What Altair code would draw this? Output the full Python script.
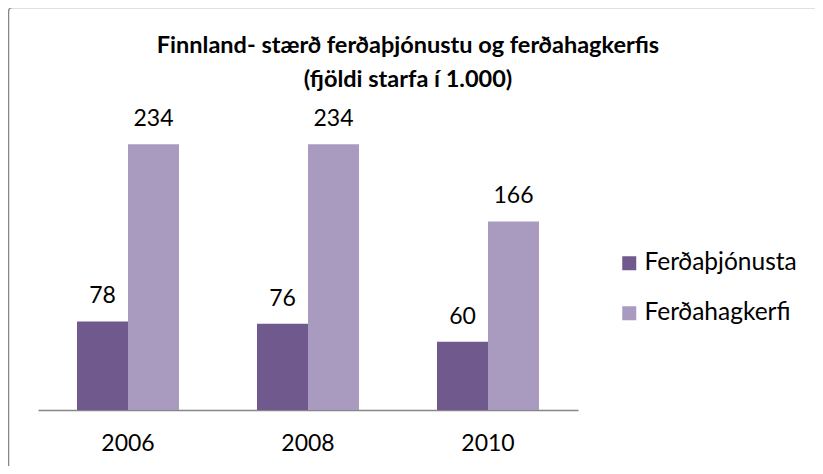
import altair as alt
import pandas as pd

years = ["2006", "2008", "2010"]
series = ["Ferðaþjónusta", "Ferðahagkerfi"]
ferdathjonusta = [78, 76, 60]
ferdahagkerfi = [234, 234, 166]
colors = ["#705A8D", "#A89BBF"]
title_lines = ["Finnland- stærð ferðaþjónustu og ferðahagkerfis", "(fjöldi starfa í 1.000)"]

rows = []
for i, y in enumerate(years):
    rows.append({"year": y, "series": series[0], "value": ferdathjonusta[i]})
    rows.append({"year": y, "series": series[1], "value": ferdahagkerfi[i]})
df = pd.DataFrame(rows)

FONT = "Lato, sans-serif"

x = alt.X("year:N", sort=years,
          scale=alt.Scale(paddingInner=0.4333, paddingOuter=0.2167),
          axis=alt.Axis(title=None, labelAngle=0, ticks=False, domainColor="#868686",
                        domainWidth=1.5, labelFont=FONT, labelFontSize=23,
                        labelColor="black", labelPadding=22))
y = alt.Y("value:Q", scale=alt.Scale(domain=[0, 250]), axis=None)
xo = alt.XOffset("series:N", sort=series, scale=alt.Scale(paddingInner=0, paddingOuter=0))

bars = alt.Chart(df).mark_bar().encode(
    x=x, y=y, xOffset=xo,
    color=alt.Color("series:N", sort=series,
                    scale=alt.Scale(domain=series, range=colors),
                    legend=alt.Legend(orient="none", legendX=579, legendY=125, title=None,
                                      symbolType="square", symbolSize=196, symbolStrokeWidth=0,
                                      labelFont=FONT, labelFontSize=24.5, labelColor="black",
                                      labelOffset=3, rowPadding=25, padding=0)),
)

labels = alt.Chart(df).mark_text(font=FONT, fontSize=23, baseline="alphabetic", dy=-18,
                                 color="black").encode(
    x=x, y=y, xOffset=xo, text=alt.Text("value:Q"))

single = pd.DataFrame({"a": [0]})

border = alt.Chart(single).mark_rect(
    fill=None, stroke="#868686", strokeWidth=1.5, cornerRadius=4).encode(
    x=alt.value(-29.5), y=alt.value(-118.5), x2=alt.value(2000), y2=alt.value(2000))

title = alt.Chart(single).mark_text(
    text=title_lines, font=FONT, fontSize=23.5, fontWeight="bold", color="black",
    align="center", baseline="alphabetic", lineHeight=34).encode(
    x=alt.value(370), y=alt.value(-73))

chart = alt.layer(border, title, bars, labels).properties(
    width=540, height=284,
    padding={"left": 30, "top": 118, "right": 237, "bottom": 56},
    autosize=alt.AutoSizeParams(type="none"),
).configure_view(stroke=None)

chart.save("out.html", embed_options={"renderer": "svg", "actions": False})
